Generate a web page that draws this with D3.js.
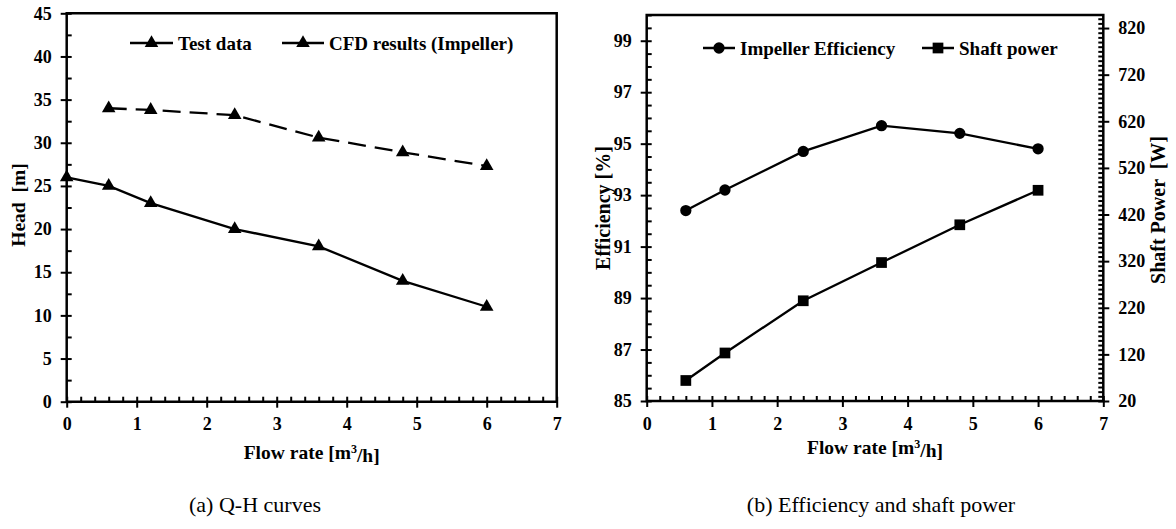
<!DOCTYPE html>
<html>
<head>
<meta charset="utf-8">
<script src="https://cdn.jsdelivr.net/npm/d3@7"></script>
<style>
  body { margin: 0; background: #fff; }
  svg { display: block; }
  text { font-family: "Liberation Serif", "Times New Roman", serif; fill: #000; }
</style>
</head>
<body>
<div id="chart"></div>
<script>
// (a) Q-H curves
var testFlow = [0, 0.6, 1.2, 2.4, 3.6, 4.8, 6];
var testHead = [26, 25, 23, 20, 18, 14, 11];
var cfdFlow = [0.6, 1.2, 2.4, 3.6, 4.8, 6];
var cfdHead = [34, 33.8, 33.2, 30.6, 28.9, 27.3];
var headTicks = [0, 5, 10, 15, 20, 25, 30, 35, 40, 45];
var flowTicks = [0, 1, 2, 3, 4, 5, 6, 7];

// (b) Efficiency and shaft power
var effFlow = [0.6, 1.2, 2.4, 3.6, 4.8, 6];
var efficiency = [92.4, 93.2, 94.7, 95.7, 95.4, 94.8];
var shaftPower = [64, 123, 235, 317, 398, 472];
var effTicks = [85, 87, 89, 91, 93, 95, 97, 99];
var powerTicks = [20, 120, 220, 320, 420, 520, 620, 720, 820];

var FONT = '"Liberation Serif", "Times New Roman", serif';
var W = 1176, H = 529;
var svg = d3.select('#chart').append('svg').attr('width', W).attr('height', H)
	.attr('font-family', FONT);

var tri = d3.symbol().type(d3.symbolTriangle).size(80);
var circ = d3.symbol().type(d3.symbolCircle).size(100);
var sq = d3.symbol().type(d3.symbolSquare).size(115);

function zip(a, b) { return a.map(function (v, i) { return [v, b[i]]; }); }

function range(a, b, s) {
	var out = [];
	for (var v = a; v <= b + 1e-9; v += s) out.push(+v.toFixed(4));
	return out;
}

// axis with crossing major ticks + inside minor ticks
function drawAxis(g, axisFn, scale, majors, minors, pad) {
	var ax = g.append('g').call(axisFn(scale).tickValues(majors).tickSize(6).tickPadding(pad).tickFormat(d3.format('d')));
	ax.attr('font-family', FONT).attr('font-size', 18).attr('font-weight', 'bold');
	ax.select('.domain').remove();
	ax.selectAll('.tick line').attr('stroke', '#000').attr('stroke-width', 2);
	ax.selectAll('.tick text').attr('fill', '#000');
	var inner = g.append('g').call(axisFn(scale).tickValues(minors).tickSize(-5).tickFormat(''));
	inner.select('.domain').remove();
	inner.selectAll('.tick line').attr('stroke', '#000').attr('stroke-width', 2);
	return ax;
}

function series(g, x, y, pts, sym, dash) {
	g.append('path').datum(pts)
		.attr('fill', 'none').attr('stroke', '#000').attr('stroke-width', 2.3)
		.attr('stroke-dasharray', dash || null)
		.attr('d', d3.line().x(function (d) { return x(d[0]); }).y(function (d) { return y(d[1]); }));
	g.selectAll(null).data(pts).enter().append('path')
		.attr('d', sym)
		.attr('transform', function (d) { return 'translate(' + x(d[0]) + ',' + y(d[1]) + ')'; })
		.attr('fill', '#000');
}

function legendItem(g, x1, x2, y, sym, label, dash) {
	g.append('line').attr('x1', x1).attr('x2', x2).attr('y1', y).attr('y2', y)
		.attr('stroke', '#000').attr('stroke-width', 2.5).attr('stroke-dasharray', dash || null);
	g.append('path').attr('d', sym).attr('transform', 'translate(' + ((x1 + x2) / 2) + ',' + y + ')');
	g.append('text').attr('x', x2 + 5).attr('y', y).attr('dy', '0.35em')
		.style('font-size', '19px').style('font-weight', 'bold').text(label);
}

function frame(g, x0, y0, x1, y1) {
	g.append('path')
		.attr('d', 'M' + x0 + ',' + y0 + 'V' + y1 + 'H' + x1 + 'V' + y0 + 'Z')
		.attr('fill', 'none').attr('stroke', '#000').attr('stroke-width', 2.5);
}

function flowTitle(g, cx, y) {
	var t = g.append('text').attr('x', cx).attr('y', y).attr('dy', '0.35em')
		.attr('text-anchor', 'middle').style('font-size', '19.5px').style('font-weight', 'bold');
	t.append('tspan').text('Flow rate [m');
	t.append('tspan').attr('dy', '-0.45em').style('font-size', '12px').text('3');
	t.append('tspan').attr('dy', '0.45em').text('/h]');
}

function yTitle(g, x, y, label, size) {
	g.append('text').attr('transform', 'translate(' + x + ',' + y + ') rotate(-90)')
		.attr('text-anchor', 'middle').attr('dy', '0.35em')
		.style('font-size', size + 'px').style('font-weight', 'bold').style('white-space', 'pre').text(label);
}

// ---------- chart (a)
var a = { l: 66.7, r: 556.7, t: 13.3, b: 401.7 };
var xA = d3.scaleLinear().domain([0, 7]).range([a.l, a.r]);
var yA = d3.scaleLinear().domain([0, 45]).range([a.b, a.t]);
var gA = svg.append('g');

drawAxis(gA.append('g').attr('transform', 'translate(0,' + a.b + ')'), d3.axisBottom, xA, flowTicks, range(0, 7, 0.2), 10);
drawAxis(gA.append('g').attr('transform', 'translate(' + a.l + ',0)'), d3.axisLeft, yA, headTicks, range(0, 45, 2.5), 9);
frame(gA, a.l, a.t, a.r, a.b);

series(gA, xA, yA, zip(cfdFlow, cfdHead), tri, '18,9');
series(gA, xA, yA, zip(testFlow, testHead), tri);

legendItem(gA, 130, 173, 43, tri, 'Test data');
legendItem(gA, 282, 324, 43, tri, 'CFD results (Impeller)', '18,6');

yTitle(gA, 18, 205, 'Head  [m]', 19.5);
flowTitle(gA, (a.l + a.r) / 2, 452);

// ---------- chart (b)
var b = { l: 646.7, r: 1103.3, t: 15, b: 401 };
var xB = d3.scaleLinear().domain([0, 7]).range([b.l, b.r]);
var yB = d3.scaleLinear().domain([85, 100]).range([b.b, b.t]);
var yP = d3.scaleLinear().domain([20, 848]).range([b.b, b.t]);
var gB = svg.append('g');

drawAxis(gB.append('g').attr('transform', 'translate(0,' + b.b + ')'), d3.axisBottom, xB, flowTicks, range(0, 7, 0.2), 10);
drawAxis(gB.append('g').attr('transform', 'translate(' + b.l + ',0)'), d3.axisLeft, yB, effTicks, range(85, 100, 0.5), 9);
drawAxis(gB.append('g').attr('transform', 'translate(' + b.r + ',0)'), d3.axisRight, yP, powerTicks, range(20, 840, 10), 9);
frame(gB, b.l, b.t, b.r, b.b);

series(gB, xB, yB, zip(effFlow, efficiency), circ);
series(gB, xB, yP, zip(effFlow, shaftPower), sq);

legendItem(gB, 703, 735, 48, circ, 'Impeller Efficiency');
legendItem(gB, 922, 954, 48, sq, 'Shaft power');

yTitle(gB, 603, 208, 'Efficiency [%]', 20);
yTitle(gB, 1158, 210, 'Shaft Power  [W]', 20);
flowTitle(gB, (b.l + b.r) / 2, 447);

// captions
svg.append('text').attr('x', 255).attr('y', 512).attr('text-anchor', 'middle')
	.style('font-size', '22px').text('(a) Q-H curves');
svg.append('text').attr('x', 881).attr('y', 512).attr('text-anchor', 'middle')
	.style('font-size', '22px').text('(b) Efficiency and shaft power');
</script>
</body>
</html>
